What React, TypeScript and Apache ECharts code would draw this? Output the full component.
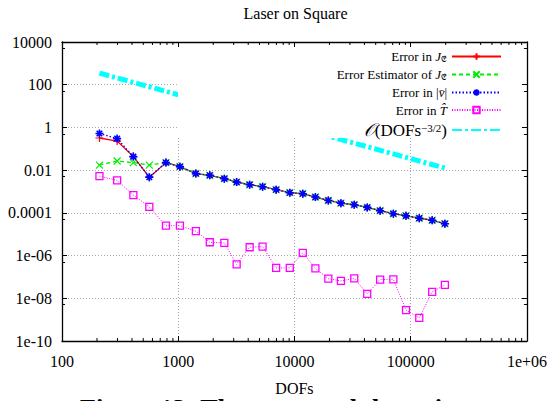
import React, { useEffect, useRef } from "react";
import * as echarts from "echarts";

// Degrees of freedom of the adaptive refinement steps
const dofs = [
  210, 298, 411, 564, 784, 1034, 1418, 1869, 2492, 3181, 4115, 5318, 6954,
  9112, 11790, 15140, 19560, 25090, 32700, 42250, 54570, 70920, 91120,
  118500, 153000, 196800,
];

// Error in J_E
const errJ = [
  0.32, 0.23, 0.043, 0.0047, 0.0225, 0.0146, 0.0069, 0.0057, 0.004, 0.00276,
  0.00208, 0.00168, 0.00122, 0.00088, 0.00079, 0.00055, 0.00038, 0.000285,
  0.00024, 0.00018, 0.000126, 0.000091, 0.000073, 0.000056, 0.000045,
  0.000031,
];

// Error estimator of J_E
const estJ = [
  0.0173, 0.0267, 0.0225, 0.0173, 0.0225, 0.0146, 0.0069, 0.0057, 0.004,
  0.00276, 0.00208, 0.00168, 0.00122, 0.00088, 0.00079, 0.00055, 0.00038,
  0.000285, 0.00024, 0.00018, 0.000126, 0.000091, 0.000073, 0.000056,
  0.000045, 0.000031,
];

// Error in |v|
const errV = [
  0.52, 0.3, 0.043, 0.0047, 0.0225, 0.0146, 0.0069, 0.0057, 0.004, 0.00276,
  0.00208, 0.00168, 0.00122, 0.00088, 0.00079, 0.00055, 0.00038, 0.000285,
  0.00024, 0.00018, 0.000126, 0.000091, 0.000073, 0.000056, 0.000045,
  0.000031,
];

// Error in T
const errT = [
  0.0053, 0.0033, 0.00068, 0.00019, 0.000025, 0.000025, 0.000014, 4.2e-6,
  3.9e-6, 3.9e-7, 2.45e-6, 2.65e-6, 2.65e-7, 2.65e-7, 1.34e-6, 2.5e-7, 8.3e-8,
  6.5e-8, 8.6e-8, 1.6e-8, 7.5e-8, 7.7e-8, 2.8e-9, 1.2e-9, 2.0e-8, 4.2e-8,
];

// Reference slope O(DOFs^-3/2): values at the first and last DOFs
const rateEnds = [350, 0.0125];

// Axis ticks
const xMajor = [100, 1000, 10000, 100000, 1000000];
const xMinorFactors = [2, 3, 4, 5, 6, 7, 8, 9];

const FONT = '"Liberation Serif", "DejaVu Serif", serif';

const legendLabels: Record<string, string> = {
  errJ: "{n|Error in }{i|J}{s|𝔈}",
  estJ: "{n|Error Estimator of }{i|J}{s|𝔈}",
  errV: "{n|Error in |}{i|v̄}{n||}",
  errT: "{n|Error in }{i|T̂}",
  rate: "{o|𝒪}{b|(DOFs}{sup|−3/2}{b|)}",
};

const pair = (vals: number[]) => vals.map((v, i) => [dofs[i], v]);

const yLabel = (v: number) => {
  const e = Math.round(Math.log10(v));
  if (e >= 0) return String(Math.pow(10, e));
  if (e >= -4) return Math.pow(10, e).toFixed(-e);
  return "1e-" + String(-e).padStart(2, "0");
};
const xLabel = (v: number) => {
  const e = Math.round(Math.log10(v));
  return e >= 6 ? "1e+" + String(e).padStart(2, "0") : String(Math.pow(10, e));
};

export default function App() {
  const ref = useRef<HTMLDivElement>(null);

  useEffect(() => {
    if (!ref.current) return;
    const chart = echarts.init(ref.current, undefined, { renderer: "svg" });

    const G = { left: 62, top: 42, width: 467, height: 300 };
    const minorTicks: number[][] = [];
    xMajor.slice(0, -1).forEach((d) =>
      xMinorFactors.forEach((f) => minorTicks.push([d * f, 1]))
    );

    const tickAxisX = (position: "bottom" | "top", labels: boolean) => ({
      type: "log",
      logBase: 10,
      min: 100,
      max: 1e6,
      interval: 1,
      position,
      z: 10,
      axisLine: { show: true, lineStyle: { color: "#000", width: 1.3 } },
      axisTick: { show: true, inside: true, length: 5, lineStyle: { color: "#000", width: 1 } },
      axisLabel: {
        show: labels,
        margin: 12,
        color: "#000",
        fontFamily: FONT,
        fontSize: 16,
        formatter: xLabel,
      },
      splitLine: { show: false },
      ...(labels
        ? {
            name: "DOFs",
            nameLocation: "middle",
            nameGap: 39,
            nameTextStyle: { color: "#000", fontFamily: FONT, fontSize: 16 },
          }
        : {}),
    });

    const tickAxisY = (position: "left" | "right", labels: boolean) => ({
      type: "log",
      logBase: 10,
      min: 1e-10,
      max: 1e4,
      interval: 2,
      position,
      z: 10,
      axisLine: { show: true, lineStyle: { color: "#000", width: 1.3 } },
      axisTick: { show: true, inside: true, length: 5, lineStyle: { color: "#000", width: 1 } },
      minorTick: { show: true, splitNumber: 2, length: 3, lineStyle: { color: "#000", width: 1 } },
      axisLabel: {
        show: labels,
        margin: 10,
        color: "#000",
        fontFamily: FONT,
        fontSize: 16,
        formatter: yLabel,
      },
      splitLine: { show: false },
    });

    const gridLine = { show: true, lineStyle: { color: "#a8a8a8", width: 1, type: [1, 2] } };

    const markerStyle = (color: string, width: number) => ({
      color: "rgba(0,0,0,0)",
      borderColor: color,
      borderWidth: width,
    });

    chart.setOption({
      animation: false,
      backgroundColor: "#fff",
      grid: { ...G, containLabel: false },
      xAxis: [
        tickAxisX("bottom", true),
        tickAxisX("top", false),
        {
          type: "log",
          logBase: 10,
          min: 100,
          max: 1e6,
          interval: 1,
          position: "bottom",
          z: 0,
          axisLine: { show: false },
          axisTick: { show: false },
          axisLabel: { show: false },
          splitLine: gridLine,
        },
      ],
      yAxis: [
        tickAxisY("left", true),
        tickAxisY("right", false),
        {
          type: "log",
          logBase: 10,
          min: 1e-10,
          max: 1e4,
          interval: 2,
          position: "left",
          z: 0,
          axisLine: { show: false },
          axisTick: { show: false },
          axisLabel: { show: false },
          splitLine: gridLine,
        },
      ],
      legend: {
        data: ["errJ", "estJ", "errV", "errT", "rate"],
        orient: "vertical",
        right: 43,
        top: 45,
        align: "right",
        itemWidth: 49,
        itemHeight: 8,
        itemGap: 4.5,
        z: 12,
        selectedMode: false,
        formatter: (name: string) => legendLabels[name],
        textStyle: {
          color: "#000",
          fontFamily: FONT,
          fontSize: 13,
          rich: {
            n: { fontFamily: FONT, fontSize: 13, lineHeight: 14 },
            i: { fontFamily: FONT, fontSize: 13, fontStyle: "italic", lineHeight: 14 },
            s: { fontFamily: FONT, fontSize: 9, lineHeight: 8, verticalAlign: "bottom" },
            o: { fontFamily: FONT, fontSize: 18, fontStyle: "italic", lineHeight: 15 },
            b: { fontFamily: FONT, fontSize: 17, lineHeight: 15 },
            sup: { fontFamily: FONT, fontSize: 11, lineHeight: 8, verticalAlign: "top" },
          },
        },
      },
      graphic: [
        {
          type: "rect",
          z: 5,
          shape: { x: 178, y: G.top + 1, width: G.left + G.width - 179, height: 95 },
          style: { fill: "#fff" },
        },
        {
          type: "text",
          x: G.left + G.width / 2,
          y: 5,
          style: {
            text: "Laser on Square",
            fontFamily: FONT,
            fontSize: 16,
            fill: "#000",
            textAlign: "center",
            textVerticalAlign: "top",
          },
        },
        {
          type: "text",
          x: 80,
          y: 395,
          style: {
            text: "Figure 13: The error and the estimator",
            fontFamily: FONT,
            fontWeight: "bold",
            fontSize: 26,
            fill: "#000",
            textAlign: "left",
            textVerticalAlign: "top",
          },
        },
      ],
      series: [
        {
          name: "errJ",
          type: "line",
          data: pair(errJ),
          symbol: "path://M0,5L10,5M5,0L5,10",
          symbolSize: 8,
          itemStyle: markerStyle("#ff0000", 1.2),
          lineStyle: { color: "#ff0000", width: 1.3, type: "solid" },
        },
        {
          name: "estJ",
          type: "line",
          data: pair(estJ),
          symbol: "path://M0,0L10,10M0,10L10,0",
          symbolSize: 7,
          itemStyle: markerStyle("#00ee00", 1.2),
          lineStyle: { color: "#00ee00", width: 1.3, type: [4, 3] },
        },
        {
          name: "errV",
          type: "line",
          data: pair(errV),
          symbol: "path://M0,5L10,5M5,0L5,10M1.5,1.5L8.5,8.5M1.5,8.5L8.5,1.5",
          symbolSize: 8,
          itemStyle: markerStyle("#0000ff", 1.6),
          lineStyle: { color: "#0000ff", width: 1.3, type: [1.5, 2] },
        },
        {
          name: "errT",
          type: "line",
          data: pair(errT),
          symbol: "path://M0,0L10,0L10,10L0,10Z",
          symbolSize: 7,
          itemStyle: markerStyle("#ff00ff", 1.3),
          lineStyle: { color: "#ff00ff", width: 1, type: [1, 1.5] },
        },
        {
          name: "rate",
          type: "line",
          data: [
            [dofs[0], rateEnds[0]],
            [dofs[dofs.length - 1], rateEnds[1]],
          ],
          symbol: "rect",
          showSymbol: false,
          itemStyle: { color: "rgba(0,0,0,0)", borderWidth: 0 },
          lineStyle: { color: "#00ffff", width: 5, type: [10, 3, 3, 3] },
        },
        {
          name: "minorTicks",
          type: "custom",
          z: 10,
          silent: true,
          data: minorTicks,
          encode: { x: 0, y: 1 },
          renderItem: (params: any, api: any) => {
            const x = api.coord([api.value(0), 1])[0];
            const cs = params.coordSys;
            const b = cs.y + cs.height;
            const st = { stroke: "#000", lineWidth: 1 };
            return {
              type: "group",
              children: [
                { type: "line", shape: { x1: x, y1: b, x2: x, y2: b - 3 }, style: st },
                { type: "line", shape: { x1: x, y1: cs.y, x2: x, y2: cs.y + 3 }, style: st },
              ],
            };
          },
        },
      ],
    });

    return () => chart.dispose();
  }, []);

  return (
    <div
      ref={ref}
      style={{ position: "fixed", left: 0, top: 0, width: 550, height: 401, background: "#fff" }}
    />
  );
}
